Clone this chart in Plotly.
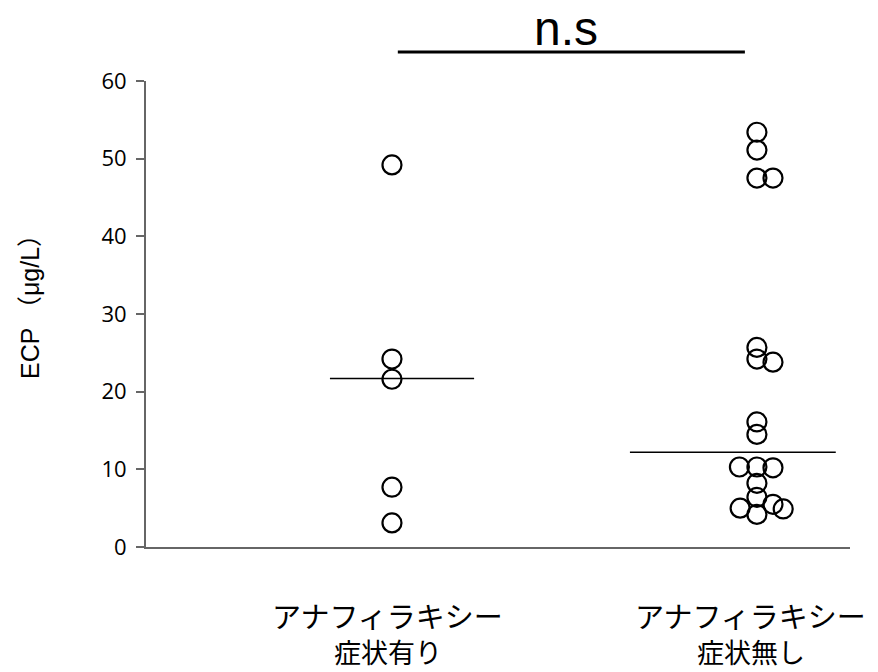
import plotly.graph_objects as go

# Data
group_line1 = ["アナフィラキシー", "アナフィラキシー"]
group_line2 = ["症状有り", "症状無し"]
group_pos = [1, 2]

g1_values = [49.2, 24.2, 21.6, 7.7, 3.1]
g1_offset = [0, 0, 0, 0, 0]

g2_values = [53.4, 51.1, 47.5, 47.5, 25.7, 24.2, 23.8, 16.1, 14.5,
             10.3, 10.3, 10.2, 8.2, 6.4, 5.0, 4.2, 5.5, 4.9]
g2_offset = [0, 0, 0, 0.044, 0, 0, 0.044, 0, 0,
             -0.048, 0, 0.044, 0, 0, -0.046, 0, 0.044, 0.072]

means = [21.7, 12.2]
mean_extent = [(0.83, 1.225), (1.652, 2.216)]

yticks = [0, 10, 20, 30, 40, 50, 60]

marker = dict(symbol="circle-open", size=19, color="black", line=dict(width=2.2, color="black"))

fig = go.Figure()
fig.add_trace(go.Scatter(x=[group_pos[0] + o for o in g1_offset], y=g1_values,
                         mode="markers", marker=marker, showlegend=False, cliponaxis=False))
fig.add_trace(go.Scatter(x=[group_pos[1] + o for o in g2_offset], y=g2_values,
                         mode="markers", marker=marker, showlegend=False, cliponaxis=False))
for m, (a, b) in zip(means, mean_extent):
    fig.add_trace(go.Scatter(x=[a, b], y=[m, m], mode="lines",
                             line=dict(color="black", width=1.6), showlegend=False))

# significance bar and label
fig.add_shape(type="line", xref="x", yref="paper", x0=1.016, x1=1.967, y0=1.062, y1=1.062,
              line=dict(color="black", width=3))
fig.add_annotation(text="n.s", xref="x", yref="paper", x=1.476, y=1.062,
                   yanchor="bottom", yshift=-5, showarrow=False,
                   font=dict(size=48, family="Liberation Sans, Arial", color="black"))

# category labels (two lines each)
for xp, l1, l2, xs in zip(group_pos, group_line1, group_line2, [-4, -6]):
    fig.add_annotation(text=l1, xref="x", yref="paper", x=xp, y=-0.1459, xshift=xs,
                       yanchor="middle", showarrow=False,
                       font=dict(size=29, family="Noto Sans CJK JP", color="black"))
    fig.add_annotation(text=l2, xref="x", yref="paper", x=xp, y=-0.2253, xshift=xs,
                       yanchor="middle", showarrow=False,
                       font=dict(size=27, family="Noto Sans CJK JP", color="black"))

# y-axis title
fig.add_annotation(text="ECP （μg/L）", xref="paper", yref="paper",
                   x=-0.1647, y=0.528, textangle=-90, showarrow=False,
                   xanchor="center", yanchor="middle",
                   font=dict(size=25, family="Liberation Sans, Noto Sans CJK JP", color="black"))

fig.update_layout(
    width=878, height=672,
    margin=dict(l=146, r=28, t=81, b=125),
    plot_bgcolor="white", paper_bgcolor="white",
    font=dict(family="Open Sans, Noto Sans CJK JP", color="black"),
)
fig.update_xaxes(range=[0.326, 2.255], tickvals=group_pos, showticklabels=False,
                 showgrid=False, zeroline=False, showline=True, linecolor="#666", linewidth=2,
                 ticks="", automargin=False)
fig.update_yaxes(range=[0, 60], tickvals=yticks, showgrid=False, zeroline=False,
                 showline=True, linecolor="#666", linewidth=2, ticks="outside", ticklen=8,
                 tickcolor="#666", tickwidth=1.5, ticklabelstandoff=5, automargin=False,
                 tickfont=dict(size=22, family="Open Sans", color="black"))

fig.write_html("out.html")
